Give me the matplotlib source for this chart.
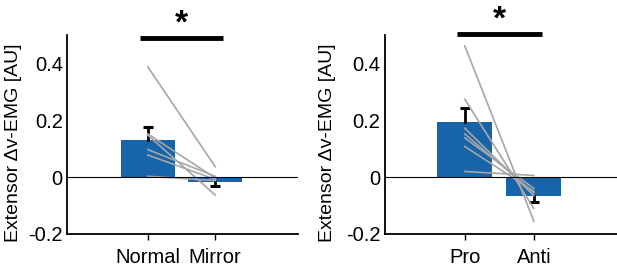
import matplotlib
matplotlib.use("Agg")
import matplotlib.pyplot as plt

plt.rcParams['font.family'] = ['Liberation Sans', 'DejaVu Sans']

# left panel: Normal vs Mirror
left_labels = ['Normal', 'Mirror']
left_means = [0.132, -0.017]
left_err = [0.044, 0.013]
left_pre = [0.388, 0.152, 0.148, 0.097, 0.078, 0.003]
left_post = [0.037, -0.003, -0.063, 0.003, -0.008, -0.012]
left_sig = 0.489

# right panel: Pro vs Anti
right_labels = ['Pro', 'Anti']
right_means = [0.195, -0.067]
right_err = [0.049, 0.020]
right_pre = [0.462, 0.274, 0.172, 0.152, 0.138, 0.108, 0.020]
right_post = [-0.155, -0.11, -0.065, -0.055, -0.04, -0.05, 0.006]
right_sig = 0.503

bar_color = '#1764ab'
line_color = '#a6a6a6'


def draw_panel(ax, labels, means, err, pre, post, sig, xlim, label_x):
    x = [1, 2]
    ax.bar(x, means, width=0.8, color=bar_color, zorder=2)
    # one-sided error bars, cap only on the far end
    for xi, m, e in zip(x, means, err):
        tip = m + e if m > 0 else m - e
        ax.plot([xi, xi], [m, tip], color='black', lw=2, zorder=3)
        ax.plot([xi - 0.075, xi + 0.075], [tip, tip], color='black',
                lw=2.2, zorder=3, solid_capstyle='butt')
    for a, b in zip(pre, post):
        ax.plot(x, [a, b], color=line_color, lw=1.2, zorder=4)
    ax.axhline(0, color='black', lw=0.8, zorder=5)
    ax.plot([0.88, 2.12], [sig, sig], color='black', lw=3.5,
            clip_on=False, solid_capstyle='butt')
    ax.annotate('*', xy=(1.5, sig), xytext=(0, 4), textcoords='offset points',
                ha='center', va='baseline', fontsize=24, fontweight='bold',
                annotation_clip=False)
    ax.set_xlim(*xlim)
    ax.set_ylim(-0.2, 0.5)
    ax.set_xticks(x)
    ax.set_xticklabels(labels)
    ax.set_yticks([-0.2, 0, 0.2, 0.4])
    ax.set_yticklabels(['-0.2', '0', '0.2', '0.4'])
    ax.spines['top'].set_visible(False)
    ax.spines['right'].set_visible(False)
    ax.spines['left'].set_linewidth(1.3)
    ax.spines['bottom'].set_linewidth(1.3)
    ax.tick_params(axis='x', labelsize=14.5, length=4, width=1,
                   direction='out', pad=6)
    ax.tick_params(axis='y', labelsize=14.5, length=0, pad=3)
    ax.set_ylabel('Extensor Δv-EMG [AU]', fontsize=14)
    ax.yaxis.set_label_coords(label_x, 0.457)


fig = plt.figure(figsize=(6.17, 2.68), dpi=100)
ax1 = fig.add_axes([0.1086, 0.127, 0.3745, 0.742])
ax2 = fig.add_axes([0.6235, 0.127, 0.376, 0.742])

draw_panel(ax1, left_labels, left_means, left_err, left_pre, left_post,
           left_sig, (-0.2, 3.23), -0.195)
draw_panel(ax2, right_labels, right_means, right_err, right_pre, right_post,
           right_sig, (-0.16, 3.2), -0.21)

fig.savefig('out.png', dpi=100)
